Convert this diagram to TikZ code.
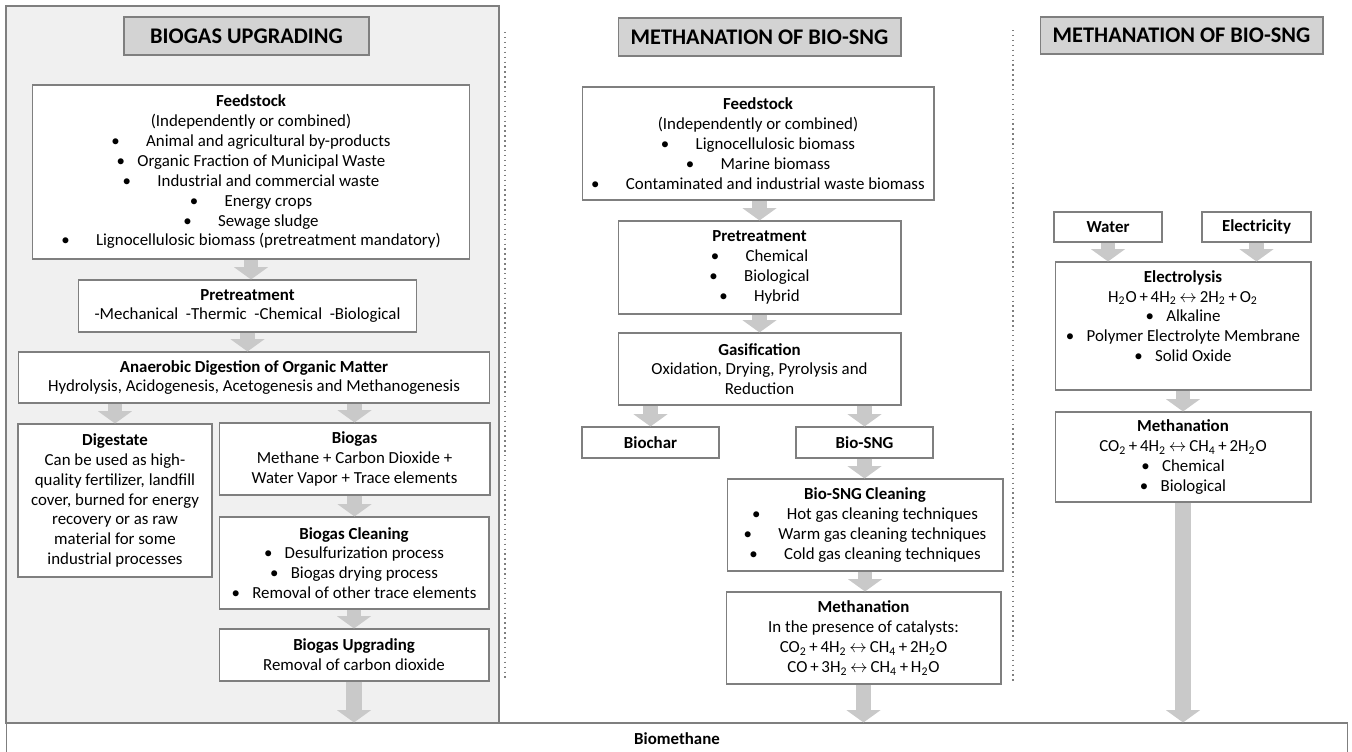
\documentclass[tikz,border=0pt]{standalone}
\usepackage{fontspec}
\setmainfont{Carlito}
\usepackage{tikz}
\usetikzlibrary{arrows.meta,positioning,calc}

\definecolor{panelgray}{HTML}{F0F0F0}
\definecolor{headgray}{HTML}{D3D3D3}
\definecolor{linegray}{HTML}{7F7F7F}
\definecolor{arrowgray}{HTML}{C9C9C9}

\newcommand{\chemsub}[1]{\textsubscript{#1}}
\newcommand{\eqarrow}{\,$\leftrightarrow$\,}
\newcommand{\bulw}[1]{\textbullet\hspace{15pt}#1}
\newcommand{\buln}[1]{\textbullet\hspace{7pt}#1}

\begin{document}
\begin{tikzpicture}[x=0.02cm, y=-0.02cm,
  box/.style={draw=linegray, line width=0.6pt, fill=white, align=center,
    inner sep=2pt, font=\fontsize{9.6}{11.3}\selectfont},
  header/.style={draw=linegray, line width=0.6pt, fill=headgray, align=center,
    font=\fontsize{12.7}{14}\selectfont\bfseries},
  flow/.style={draw=arrowgray, line width=8pt, -{Triangle[width=19pt,length=7pt]}},
  bigflow/.style={flow, line width=9pt}]

  \useasboundingbox (0,0) rectangle (1352,751);

  % Panels and separators
  \draw[draw=linegray, line width=0.6pt, fill=panelgray] (6,6) rectangle (499,723);
  \draw[linegray, dotted, line width=0.8pt] (505,32) -- (505,680);
  \draw[linegray, dotted, line width=0.8pt] (1013,30) -- (1013,682);

  % Headers
  \node[header, minimum width=4.9cm, minimum height=0.76cm] (hdrL) at (246.5,36) {BIOGAS UPGRADING};
  \node[header, minimum width=5.66cm, minimum height=0.76cm] (hdrM) at (759.5,37) {METHANATION OF BIO-SNG};
  \node[header, minimum width=5.66cm, minimum height=0.74cm] (hdrR) at (1181.5,35.5) {METHANATION OF BIO-SNG};

  % Biogas upgrading
  \node[box, minimum width=8.76cm, minimum height=3.48cm] (feedL) at (251,172) {\textbf{Feedstock}\\
    (Independently or combined)\\
    \bulw{Animal and agricultural by-products}\\
    \buln{Organic Fraction of Municipal Waste}\\
    \bulw{Industrial and commercial waste}\\
    \bulw{Energy crops}\\
    \bulw{Sewage sludge}\\
    \bulw{Lignocellulosic biomass (pretreatment mandatory)}};
  \node[box, minimum width=6.78cm, minimum height=1.04cm] (preL) at (247.5,306) {\textbf{Pretreatment}\\
    -Mechanical~~-Thermic~~-Chemical~~-Biological};
  \node[box, minimum width=9.44cm, minimum height=1.02cm] (anaL) at (254,377.5) {\textbf{Anaerobic Digestion of Organic Matter}\\
    Hydrolysis, Acidogenesis, Acetogenesis and Methanogenesis};
  \node[box, minimum width=3.88cm, minimum height=3.06cm] (digL) at (115,500.5) {\textbf{Digestate}\\
    Can be used as high-\\
    quality fertilizer, landfill\\
    cover, burned for energy\\
    recovery or as raw\\
    material for some\\
    industrial processes};
  \node[box, minimum width=5.42cm, minimum height=1.44cm] (gasL) at (354.5,459) {\textbf{Biogas}\\
    Methane + Carbon Dioxide +\\
    Water Vapor + Trace elements};
  \node[box, minimum width=5.4cm, minimum height=1.84cm] (clnL) at (354,563) {\textbf{Biogas Cleaning}\\
    \buln{Desulfurization process}\\
    \buln{Biogas drying process}\\
    \buln{Removal of other trace elements}};
  \node[box, minimum width=5.4cm, minimum height=1.04cm] (upgL) at (354,655) {\textbf{Biogas Upgrading}\\
    Removal of carbon dioxide};

  % Methanation of bio-SNG
  \node[box, minimum width=7.04cm, minimum height=2.26cm] (feedM) at (758,143.5) {\textbf{Feedstock}\\
    (Independently or combined)\\
    \bulw{Lignocellulosic biomass}\\
    \bulw{Marine biomass}\\
    \bulw{Contaminated and industrial waste biomass}};
  \node[box, minimum width=5.66cm, minimum height=1.86cm] (preM) at (759.5,267.5) {\textbf{Pretreatment}\\
    \bulw{Chemical}\\
    \bulw{Biological}\\
    \bulw{Hybrid}};
  \node[box, minimum width=5.66cm, minimum height=1.44cm] (gasM) at (759.5,369) {\textbf{Gasification}\\
    Oxidation, Drying, Pyrolysis and\\
    Reduction};
  \node[box, minimum width=2.74cm, minimum height=0.62cm] (charM) at (650.5,442.5) {\textbf{Biochar}};
  \node[box, minimum width=2.74cm, minimum height=0.62cm] (sngM) at (864.5,442.5) {\textbf{Bio-SNG}};
  \node[box, minimum width=5.52cm, minimum height=1.84cm] (clnM) at (865,525) {\textbf{Bio-SNG Cleaning}\\
    \bulw{Hot gas cleaning techniques}\\
    \bulw{Warm gas cleaning techniques}\\
    \bulw{Cold gas cleaning techniques}};
  \node[box, minimum width=5.5cm, minimum height=1.84cm] (metM) at (863.5,638) {\textbf{Methanation}\\
    In the presence of catalysts:\\
    CO\chemsub{2}\,+\,4H\chemsub{2}\eqarrow CH\chemsub{4}\,+\,2H\chemsub{2}O\\
    CO\,+\,3H\chemsub{2}\eqarrow CH\chemsub{4}\,+\,H\chemsub{2}O};

  % Power to gas
  \node[box, minimum width=2.16cm, minimum height=0.6cm] (watR) at (1108,227) {\textbf{Water}};
  \node[box, minimum width=2.18cm, minimum height=0.6cm] (eleR) at (1256.5,227) {\textbf{Electricity}};
  \node[box, minimum width=5.12cm, minimum height=2.56cm] (lysR) at (1183,326) {\textbf{Electrolysis}\\
    H\chemsub{2}O\,+\,4H\chemsub{2}\eqarrow 2H\chemsub{2}\,+\,O\chemsub{2}\\
    \buln{Alkaline}\\
    \buln{Polymer Electrolyte Membrane}\\
    \buln{Solid Oxide}\\ \mbox{}};
  \node[box, minimum width=5.12cm, minimum height=1.8cm] (metR) at (1183,457) {\textbf{Methanation}\\
    CO\chemsub{2}\,+\,4H\chemsub{2}\eqarrow CH\chemsub{4}\,+\,2H\chemsub{2}O\\
    \buln{Chemical}\\
    \buln{Biological}};

  % Common product
  \node[box, font=\fontsize{9.6}{11.3}\selectfont\bfseries, minimum width=26.84cm, minimum height=0.64cm] (bioM) at (677,739) {Biomethane};

  % Flows
  \draw[flow] (feedL.south) -- (feedL.south |- preL.north);
  \draw[flow] (preL.south) -- (preL.south |- anaL.north);
  \draw[flow] (anaL.south -| digL.north) -- (digL.north);
  \draw[flow] (anaL.south -| gasL.north) -- (gasL.north);
  \draw[flow] (gasL.south) -- (gasL.south |- clnL.north);
  \draw[flow] (clnL.south) -- (clnL.south |- upgL.north);
  \draw[bigflow] (upgL.south) -- (upgL.south |- bioM.north);

  \draw[flow] (feedM.south -| preM.north) -- (preM.north);
  \draw[flow] (preM.south) -- (gasM.north);
  \draw[flow] (gasM.south -| charM.north) -- (charM.north);
  \draw[flow] (gasM.south -| sngM.north) -- (sngM.north);
  \draw[flow] (sngM.south) -- (sngM.south |- clnM.north);
  \draw[flow] (clnM.south) -- (clnM.south |- metM.north);
  \draw[bigflow] (metM.south) -- (metM.south |- bioM.north);

  \draw[flow] (watR.south) -- (watR.south |- lysR.north);
  \draw[flow] (eleR.south) -- (eleR.south |- lysR.north);
  \draw[flow] (lysR.south) -- (metR.north);
  \draw[bigflow] (metR.south) -- (metR.south |- bioM.north);
\end{tikzpicture}
\end{document}
